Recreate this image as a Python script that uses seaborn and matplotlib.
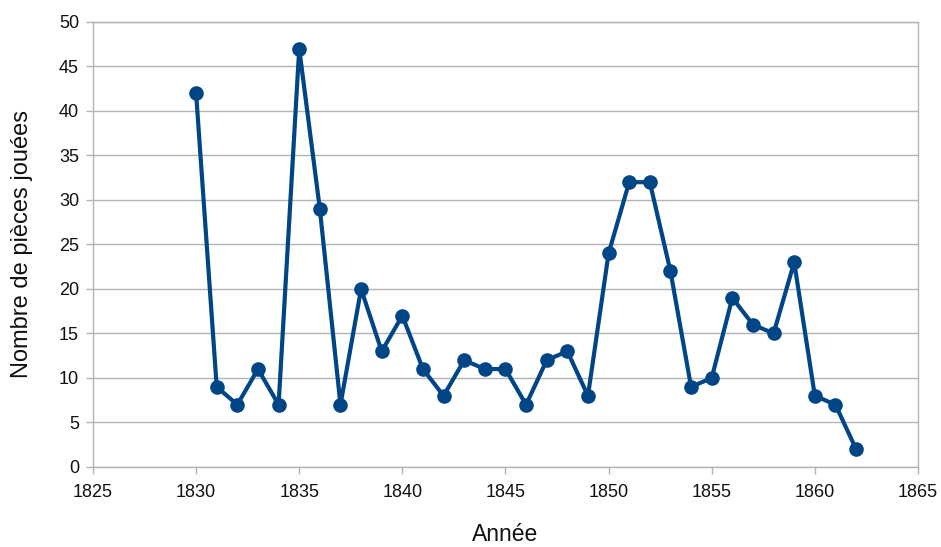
import matplotlib
matplotlib.use("Agg")
import matplotlib.pyplot as plt
import seaborn as sns
import pandas as pd

years = list(range(1830, 1863))
pieces = [42, 9, 7, 11, 7, 47, 29, 7, 20, 13, 17, 11, 8, 12, 11, 11, 7, 12, 13, 8,
          24, 32, 32, 22, 9, 10, 19, 16, 15, 23, 8, 7, 2]
x_ticks = list(range(1825, 1866, 5))
y_ticks = list(range(0, 51, 5))

sns.set_theme(style="white")
plt.rcParams['font.family'] = ['Liberation Sans', 'DejaVu Sans']

df = pd.DataFrame({"Année": years, "Nombre de pièces jouées": pieces})

fig = plt.figure(figsize=(9.41, 5.47), dpi=100)
ax = fig.add_axes([0.0988, 0.1463, 0.9755 - 0.0988, 0.9598 - 0.1463])
sns.lineplot(data=df, x="Année", y="Nombre de pièces jouées", ax=ax,
             color="#004586", linewidth=3, marker="o", markersize=10.5,
             markeredgewidth=0, zorder=3)

ax.set_xlim(1825, 1865)
ax.set_ylim(0, 50)
ax.set_xticks(x_ticks)
ax.set_yticks(y_ticks)
ax.yaxis.grid(True, color="#b3b3b3", linewidth=1)
ax.set_axisbelow(True)
for s in ax.spines.values():
    s.set_color("#b3b3b3")
    s.set_linewidth(1)
ax.tick_params(axis="both", which="major", length=5, width=1, color="#b3b3b3",
               labelsize=13, labelcolor="#111111", direction="out",
               bottom=True, left=True)
ax.tick_params(axis="x", pad=7)
ax.tick_params(axis="y", pad=5)
ax.set_xlabel("Année", fontsize=16.5, color="#111111", labelpad=16)
ax.set_ylabel("Nombre de pièces jouées", fontsize=17, color="#111111", labelpad=19)

fig.savefig("out.png", dpi=100)
